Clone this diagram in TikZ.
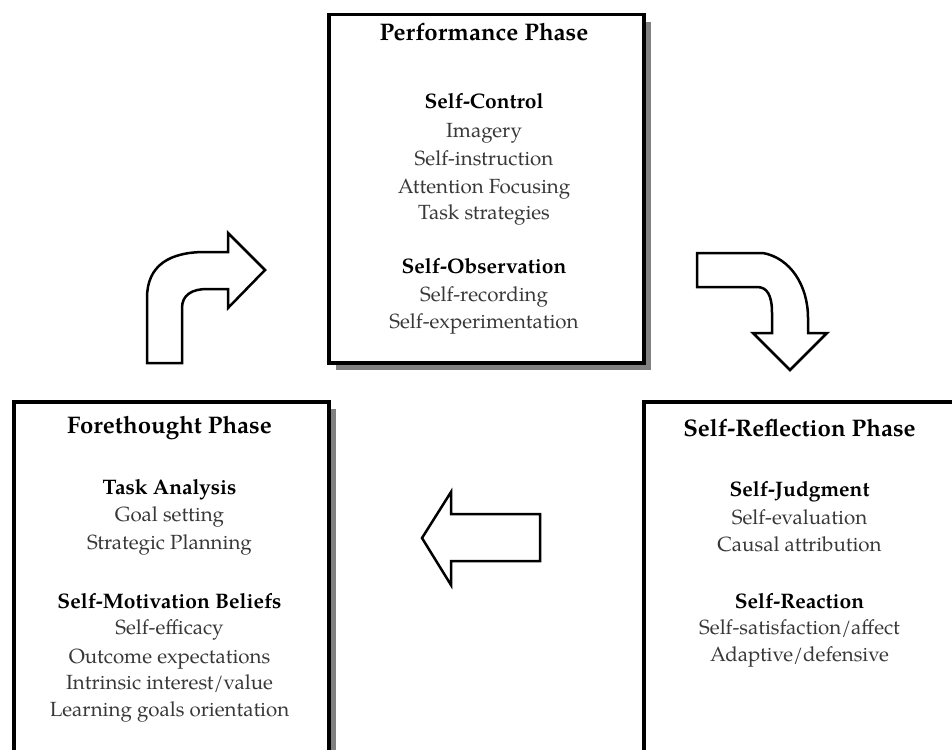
\documentclass[tikz,border=0pt]{standalone}
\usepackage{fontspec}
\setmainfont{TeX Gyre Pagella}
\usetikzlibrary{shadows}
\definecolor{itemgray}{gray}{0.22}
\definecolor{shadowgray}{gray}{0.5}
\begin{document}
\begin{tikzpicture}[x=1pt,y=-1pt,
  phasebox/.style={draw=black,line width=3.5pt,fill=white,anchor=north west,
    minimum width=315pt,inner sep=0pt,
    drop shadow={shadow xshift=7pt,shadow yshift=-7pt,fill=shadowgray,opacity=1}},
  blockarrow/.style={draw=black,line width=2.5pt,fill=white,line join=miter},
  ttl/.style={font=\fontsize{24}{28}\selectfont\bfseries,anchor=base,inner sep=0pt},
  hd/.style={font=\fontsize{21}{25}\selectfont\bfseries,anchor=base,inner sep=0pt},
  itm/.style={font=\fontsize{20.5}{24}\selectfont,text=itemgray,anchor=base,inner sep=0pt}]
\useasboundingbox (0,0) rectangle (952,749);
\clip (0,0) rectangle (952,749);

% boxes
\node[phasebox,minimum height=348pt] (perf) at (327,13) {};
\node[phasebox,minimum height=400pt] (fore) at (12,400) {};
\node[phasebox,minimum height=400pt] (refl) at (642,400) {};

% Performance phase
\node[ttl] (p0) at (484,41) {Performance Phase};
\node[hd]  (p1) at (484,109) {Self-Control};
\node[itm] (p2) at (484,137) {Imagery};
\node[itm] (p3) at (484,165) {Self-instruction};
\node[itm] (p4) at (484,193) {Attention Focusing};
\node[itm] (p5) at (484,219) {Task strategies};
\node[hd]  (p6) at (484,273) {Self-Observation};
\node[itm] (p7) at (484,301) {Self-recording};
\node[itm] (p8) at (484,328) {Self-experimentation};

% Forethought phase
\node[ttl] (f0) at (169.5,433) {Forethought Phase};
\node[hd]  (f1) at (169.5,494) {Task Analysis};
\node[itm] (f2) at (169.5,521) {Goal setting};
\node[itm] (f3) at (169.5,549) {Strategic Planning};
\node[hd]  (f4) at (169.5,608) {Self-Motivation Beliefs};
\node[itm] (f5) at (169.5,634) {Self-efficacy};
\node[itm] (f6) at (169.5,663) {Outcome expectations};
\node[itm] (f7) at (169.5,689) {Intrinsic interest/value};
\node[itm] (f8) at (169.5,716) {Learning goals orientation};

% Self-reflection phase
\node[ttl] (r0) at (799.5,436) {Self-Reflection Phase};
\node[hd]  (r1) at (799.5,496) {Self-Judgment};
\node[itm] (r2) at (799.5,524) {Self-evaluation};
\node[itm] (r3) at (799.5,551) {Causal attribution};
\node[hd]  (r4) at (799.5,608) {Self-Reaction};
\node[itm] (r5) at (799.5,634) {Self-satisfaction/affect};
\node[itm] (r6) at (799.5,661) {Adaptive/defensive};

% block arrows
\draw[blockarrow] (147,363) -- (147,298)
  .. controls (147,265) and (170,252) .. (205,252)
  -- (228,252) -- (228,233) -- (265,270) -- (228,308) -- (228,289) -- (207,289)
  .. controls (192,289) and (182,295) .. (182,308)
  -- (182,363) -- cycle;

\draw[blockarrow] (697,253) -- (763,253)
  .. controls (790,258) and (808,285) .. (808,318)
  -- (808,333) -- (827,333) -- (790,370) -- (753,333) -- (772,333) -- (772,313)
  .. controls (772,295) and (767,287) .. (757,287)
  -- (697,287) -- cycle;

\draw[blockarrow] (540,514) -- (451,514) -- (451,492) -- (422,538)
  -- (451,585) -- (451,561) -- (540,561) -- cycle;
\end{tikzpicture}
\end{document}
